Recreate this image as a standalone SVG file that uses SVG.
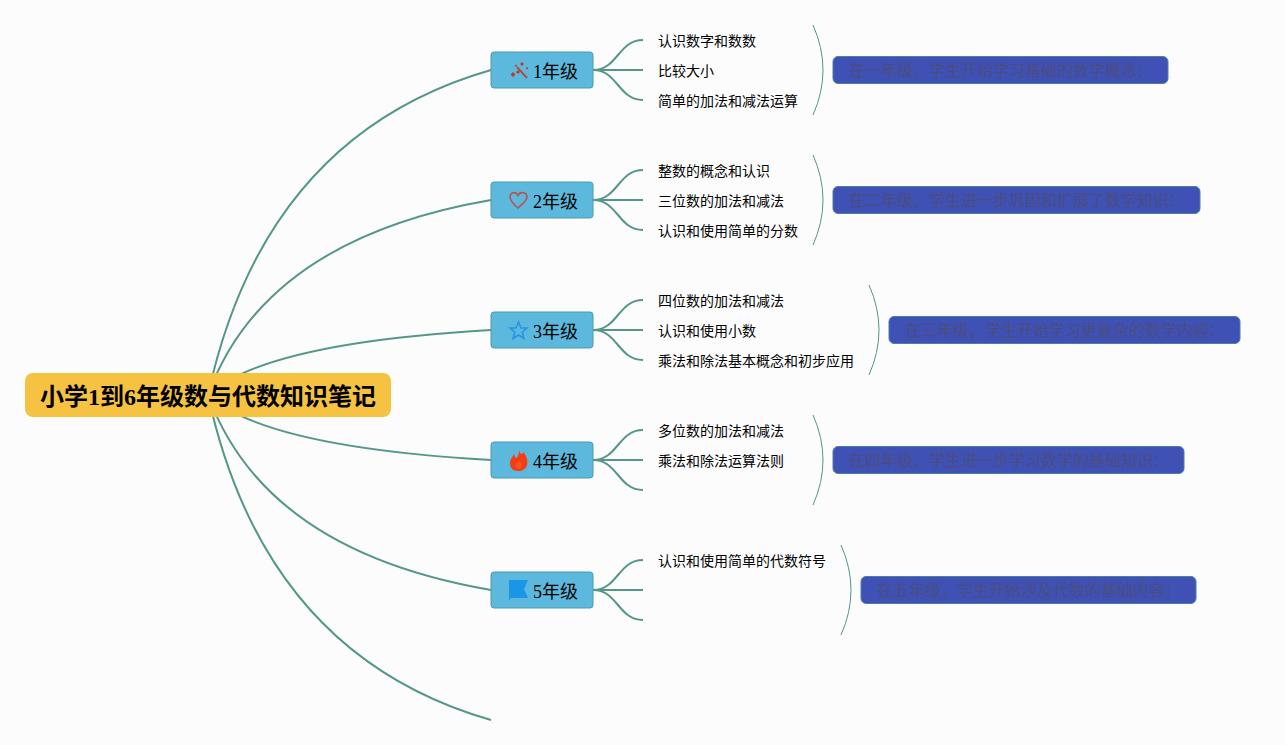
<svg xmlns="http://www.w3.org/2000/svg" width="1285" height="745" viewBox="0 0 1285 745">
<style>
text{font-family:"Liberation Serif","Noto Sans CJK SC",serif}
.main{fill:none;stroke:#549688;stroke-width:2}
.sub{fill:none;stroke:#549688;stroke-width:2}
.brace{fill:none;stroke:#549688;stroke-width:1}
.root{fill:#f5c242}
.rt{font-size:24px;font-weight:bold;fill:#000}
.lv{fill:#5cb8dc;stroke:#4a9ca8;stroke-width:1}
.lt{font-size:18px;fill:#000}
.ct{font-size:14px;fill:#000}
.nb{fill:#3f51b5;stroke:#4a7fa8;stroke-width:1}
.nt{font-size:16px;fill:#4b4d80}
</style>
<rect width="1285" height="745" fill="#fcfcfc"/>
<g id="connectors">
<path class="main" d="M208 395Q264.6 135 491 70"/>
<path class="main" d="M208 395Q264.6 239 491 200"/>
<path class="main" d="M208 395Q264.6 343 491 330"/>
<path class="main" d="M208 395Q264.6 447 491 460"/>
<path class="main" d="M208 395Q264.6 551 491 590"/>
<path class="main" d="M208 395Q264.6 655 491 720"/>
<path class="sub" d="M593 70C618 70 618 40 643 40M593 70H643M593 70C618 70 618 100 643 100"/>
<path class="sub" d="M593 200C618 200 618 170 643 170M593 200H643M593 200C618 200 618 230 643 230"/>
<path class="sub" d="M593 330C618 330 618 300 643 300M593 330H643M593 330C618 330 618 360 643 360"/>
<path class="sub" d="M593 460C618 460 618 430 643 430M593 460H643M593 460C618 460 618 490 643 490"/>
<path class="sub" d="M593 590C618 590 618 560 643 560M593 590H643M593 590C618 590 618 620 643 620"/>
<path class="brace" d="M813 25Q833 70 813 115"/>
<path class="brace" d="M813 155Q833 200 813 245"/>
<path class="brace" d="M869 285Q889 330 869 375"/>
<path class="brace" d="M813 415Q833 460 813 505"/>
<path class="brace" d="M841 545Q861 590 841 635"/>
</g>
<g id="root"><rect class="root" x="25" y="373" width="366" height="44" rx="8"/><text class="rt" x="40" y="405">小学1到6年级数与代数知识笔记</text></g>
<g id="grade1">
<rect class="lv" x="491" y="52" width="102" height="36" rx="3"/>
<path d="M517 67L527 78" fill="none" stroke="#c0392b" stroke-width="1.800"/>
<path d="M513 72l2.500 2.500-2.500 2.500-2.500-2.500zM518 70l2 2-2 2-2-2zM522 62l2 2-2 2-2-2zM527 67l1.300 1.300-1.300 1.300-1.300-1.300zM516 64.500l1.200 1.200-1.200 1.200-1.200-1.200z" fill="#c0392b"/>
<text class="lt" x="533" y="78">1年级</text>
</g>
<g id="grade2">
<rect class="lv" x="491" y="182" width="102" height="36" rx="3"/>
<path d="M518 208C512 203 510 200 510 197C510 192 516 191 518 195.500C520 191 527 192 527 197C527 200 524 203 518 208Z" fill="none" stroke="#b8524f" stroke-width="1.600"/>
<text class="lt" x="533" y="208">2年级</text>
</g>
<g id="grade3">
<rect class="lv" x="491" y="312" width="102" height="36" rx="3"/>
<path d="M518.500 322L521 328H527L522.300 332.200L524 338.500L518.500 335L513 338.500L514.700 332.200L510 328H516Z" fill="none" stroke="#2196e3" stroke-width="1.500"/>
<text class="lt" x="533" y="338">3年级</text>
</g>
<g id="grade4">
<rect class="lv" x="491" y="442" width="102" height="36" rx="3"/>
<path d="M519 450C520 455 523 455 523 452C527 456 528 461 527 465C526 469 522 471 518 471C513 471 510 468 510 463C510 459 513 457 514 454C515 456 515 458 516 458C518 457 519 454 519 450Z" fill="#f63c12"/>
<path d="M518.500 469C521 469 522.500 467 522 465C521.500 463 519.500 462 519 460C518 463 515 464 515 466C515 468 516.500 469 518.500 469Z" fill="#f9521a"/>
<text class="lt" x="533" y="468">4年级</text>
</g>
<g id="grade5">
<rect class="lv" x="491" y="572" width="102" height="36" rx="3"/>
<path d="M509 580H528L524 589L528 598H510V600H509Z" fill="#1a96e6"/>
<text class="lt" x="533" y="598">5年级</text>
</g>
<g id="children">
<text class="ct" x="658" y="46">认识数字和数数</text>
<text class="ct" x="658" y="76">比较大小</text>
<text class="ct" x="658" y="106">简单的加法和减法运算</text>
<text class="ct" x="658" y="176">整数的概念和认识</text>
<text class="ct" x="658" y="206">三位数的加法和减法</text>
<text class="ct" x="658" y="236">认识和使用简单的分数</text>
<text class="ct" x="658" y="306">四位数的加法和减法</text>
<text class="ct" x="658" y="336">认识和使用小数</text>
<text class="ct" x="658" y="366">乘法和除法基本概念和初步应用</text>
<text class="ct" x="658" y="436">多位数的加法和减法</text>
<text class="ct" x="658" y="466">乘法和除法运算法则</text>
<text class="ct" x="658" y="566">认识和使用简单的代数符号</text>
</g>
<g id="note1"><rect class="nb" x="833" y="56.500" width="335" height="27" rx="5"/><text class="nt" x="849" y="76">在一年级，学生开始学习基础的数学概念：</text></g>
<g id="note2"><rect class="nb" x="833" y="186.500" width="367" height="27" rx="5"/><text class="nt" x="849" y="206">在二年级，学生进一步巩固和扩展了数学知识：</text></g>
<g id="note3"><rect class="nb" x="889" y="316.500" width="351" height="27" rx="5"/><text class="nt" x="905" y="336">在三年级，学生开始学习更复杂的数学内容：</text></g>
<g id="note4"><rect class="nb" x="833" y="446.500" width="351" height="27" rx="5"/><text class="nt" x="849" y="466">在四年级，学生进一步学习数学的基础知识：</text></g>
<g id="note5"><rect class="nb" x="861" y="576.500" width="335" height="27" rx="5"/><text class="nt" x="877" y="596">在五年级，学生开始涉及代数的基础内容：</text></g>
</svg>
